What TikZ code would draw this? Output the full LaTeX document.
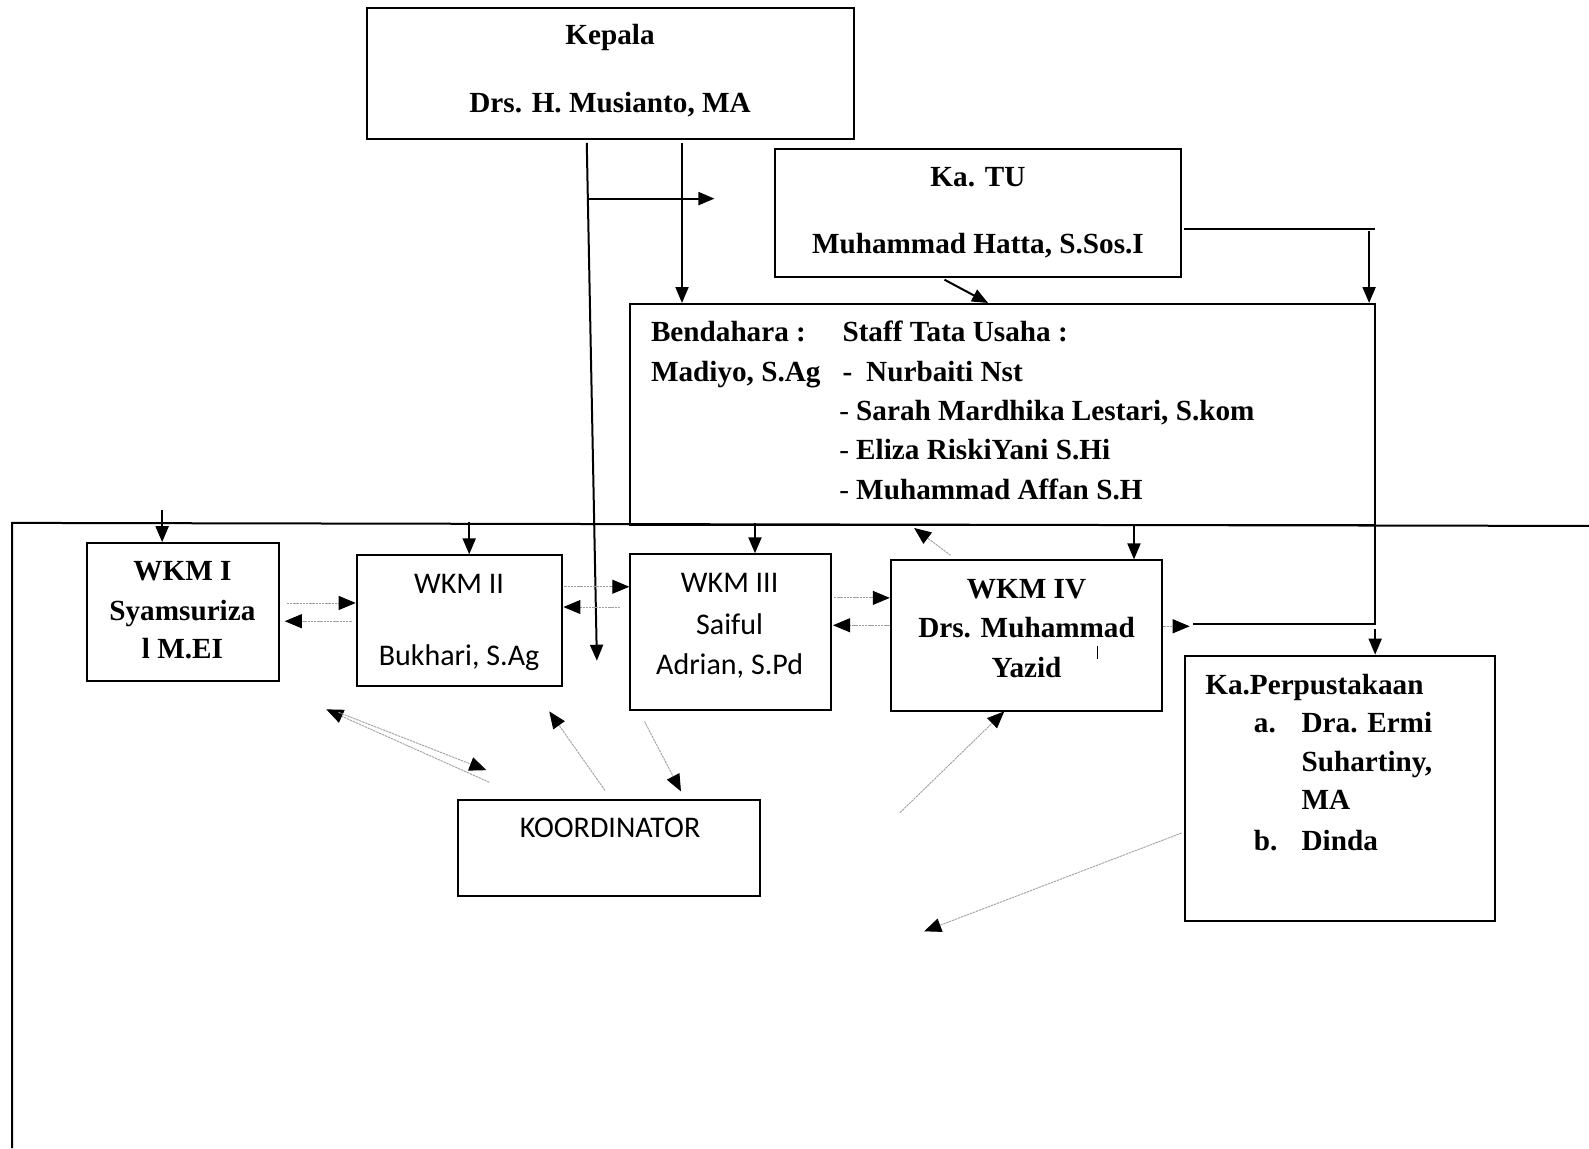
\documentclass[tikz,border=0pt]{standalone}
\usepackage{fontspec}
\setmainfont{Liberation Serif}
\newfontfamily\calfont{Carlito}
\usetikzlibrary{arrows.meta,fit}
\begin{document}
\begin{tikzpicture}[x=0.5067pt,y=-0.5067pt,
  box/.style={draw,line width=1pt,inner sep=0pt},
  tb/.style={font=\fontsize{14.6}{18}\selectfont\bfseries,inner sep=0pt},
  ts/.style={font=\calfont\fontsize{15}{18}\selectfont,inner sep=0pt},
  ln/.style={line width=1pt},
  arr/.style={line width=1pt,-{Triangle[length=8pt,width=6.5pt]}},
  tarr/.style={draw=gray!75,line width=0.45pt,dash pattern=on 1.2pt off 0.4pt,-{Triangle[length=8.5pt,width=7pt,color=black]}},
]
\useasboundingbox (0,0) rectangle (1568,1133);

% ---------- boxes ----------
\node[box,fit={(362,8)(843,137)}] (kepala) {};
\node[box,fit={(765,147)(1165,273)}] (katu) {};
\node[box,fit={(622,300)(1357,518)}] (staff) {};
\node[box,fit={(86,536)(275,672)}] (wkm1) {};
\node[box,fit={(352,548)(555,677)}] (wkm2) {};
\node[box,fit={(622,547)(820,701)}] (wkm3) {};
\node[box,fit={(879,553)(1147,702)}] (wkm4) {};
\node[box,fit={(1169,647)(1475,909)}] (kpus) {};
\node[box,fit={(452,789)(750,884)}] (koord) {};

% ---------- texts ----------
\node[tb,anchor=base] (kt1) at (602,44) {Kepala};
\node[tb,anchor=base] (kt2) at (602,111) {Drs. H. Musianto, MA};
\node[tb,anchor=base] (tu1) at (965,184) {Ka. TU};
\node[tb,anchor=base] (tu2) at (965,250) {Muhammad Hatta, S.Sos.I};

\node[tb,anchor=base west] (st1) at (642,337) {Bendahara :};
\node[tb,anchor=base west] (st2) at (642,376) {Madiyo, S.Ag};
\node[tb,anchor=base west] (st3) at (831,337) {Staff Tata Usaha :};
\node[tb,anchor=base west] (st4) at (831,376) {-\hspace{7pt}Nurbaiti Nst};
\node[tb,anchor=base west] (st5) at (828,415) {{\mdseries-}\hspace{3.5pt}Sarah Mardhika Lestari, S.kom};
\node[tb,anchor=base west] (st6) at (828,453) {{\mdseries-}\hspace{3.5pt}Eliza RiskiYani S.Hi};
\node[tb,anchor=base west] (st7) at (828,493) {{\mdseries-}\hspace{3.5pt}Muhammad Affan S.H};

\node[tb,anchor=base] (w1a) at (180,573) {WKM I};
\node[tb,anchor=base] (w1b) at (180,612) {Syamsuriza};
\node[tb,anchor=base] (w1c) at (180,650) {l M.EI};

\node[ts,anchor=base] (w2a) at (453,586) {WKM II};
\node[ts,anchor=base] (w2b) at (453,657) {Bukhari, S.Ag};

\node[ts,anchor=base] (w3a) at (720,585) {WKM III};
\node[ts,anchor=base] (w3b) at (720,626) {Saiful};
\node[ts,anchor=base] (w3c) at (720,666) {Adrian, S.Pd};

\node[tb,anchor=base] (w4a) at (1013,591) {WKM IV};
\node[tb,anchor=base] (w4b) at (1013,629) {Drs. Muhammad};
\node[tb,anchor=base] (w4c) at (1013,669) {Yazid};
\coordinate (tick1) at (1083,637);
\coordinate (tick2) at (1083,650);
\draw[line width=0.6pt] (tick1) -- (tick2);

\node[tb,anchor=base west] (kp1) at (1189,685) {Ka.Perpustakaan};
\node[tb,anchor=base west] (kp2) at (1237,723) {a.};
\node[tb,anchor=base west] (kp3) at (1284,723) {Dra. Ermi};
\node[tb,anchor=base west] (kp4) at (1284,761) {Suhartiny,};
\node[tb,anchor=base west] (kp5) at (1284,799) {MA};
\node[tb,anchor=base west] (kp6) at (1237,839) {b.};
\node[tb,anchor=base west] (kp7) at (1284,839) {Dinda};

\node[ts,anchor=base] (ko1) at (602,826) {KOORDINATOR};

% ---------- frame lines ----------
\coordinate (hl) at (12,516);
\coordinate (hr) at (1568,519);
\coordinate (vb) at (12,1133);
\draw[ln] (hr) -- (hl) -- (vb);

% arrows from horizontal line to WKM boxes
\coordinate (d1) at (160,503);
\coordinate (d2) at (463,515);
\coordinate (d3) at (745,516);
\coordinate (d4) at (1119,518);
\draw[arr] (d1) -- (wkm1.north -| d1);
\draw[arr] (d2) -- (wkm2.north -| d2);
\draw[arr] (d3) -- (wkm3.north -| d3);
\draw[arr] (d4) -- (wkm4.north -| d4);

% ---------- Kepala lines ----------
\coordinate (k1s) at (579,141);
\coordinate (k1e) at (589,652);
\draw[arr] (k1s) -- (k1e);
\coordinate (k2s) at (579,196);
\coordinate (k2e) at (705,196);
\draw[arr] (k2s) -- (k2e);
\coordinate (k3s) at (673,141);
\draw[arr] (k3s) -- (staff.north -| k3s);

% Ka.TU to staff
\coordinate (t1s) at (932,276);
\coordinate (t1e) at (975,299);
\draw[arr] (t1s) -- (t1e);
\coordinate (t2s) at (1168,226);
\coordinate (t2e) at (1357,226);
\draw[ln] (t2s) -- (t2e);
\coordinate (t3s) at (1351,228);
\draw[arr] (t3s) -- (staff.north -| t3s);

% right side to Ka.Perpustakaan
\coordinate (r0) at (1357,518);
\coordinate (r1) at (1357,616);
\coordinate (r2) at (1177,616);
\draw[ln] (r0) -- (r1) -- (r2);
\coordinate (r3) at (1174,618);
\draw[tarr] (wkm4.east |- r3) -- (r3);
\coordinate (r4) at (1357,621);
\draw[arr] (r4) -- (kpus.north -| r4);

% ---------- thin links between WKM boxes ----------
\coordinate (a1) at (283,595);
\draw[tarr] (a1) -- (wkm2.west |- a1);
\coordinate (a2s) at (347,613);
\coordinate (a2e) at (281,613);
\draw[tarr] (a2s) -- (a2e);
\coordinate (a3) at (557,579);
\draw[tarr] (a3) -- (wkm3.west |- a3);
\coordinate (a4s) at (612,599);
\draw[tarr] (a4s) -- (wkm2.east |- a4s);
\coordinate (a5) at (823,590);
\draw[tarr] (a5) -- (wkm4.west |- a5);
\coordinate (a6) at (822,617);
\draw[tarr] (wkm4.west |- a6) -- (a6);
\coordinate (a7s) at (938,548);
\coordinate (a7e) at (902,521);
\draw[tarr] (a7s) -- (a7e);

% ---------- Koordinator links ----------
\coordinate (b1s) at (483,772);
\coordinate (b1e) at (322,700);
\draw[tarr] (b1s) -- (b1e);
\coordinate (b2s) at (334,703);
\coordinate (b2e) at (480,760);
\draw[tarr] (b2s) -- (b2e);
\coordinate (b3s) at (597,780);
\coordinate (b3e) at (542,702);
\draw[tarr] (b3s) -- (b3e);
\coordinate (b4s) at (636,712);
\coordinate (b4e) at (672,781);
\draw[tarr] (b4s) -- (b4e);
\coordinate (b5s) at (888,802);
\coordinate (b5e) at (991,702);
\draw[tarr] (b5s) -- (b5e);
\coordinate (b6s) at (1166,822);
\coordinate (b6e) at (912,919);
\draw[tarr] (b6s) -- (b6e);
\end{tikzpicture}
\end{document}
